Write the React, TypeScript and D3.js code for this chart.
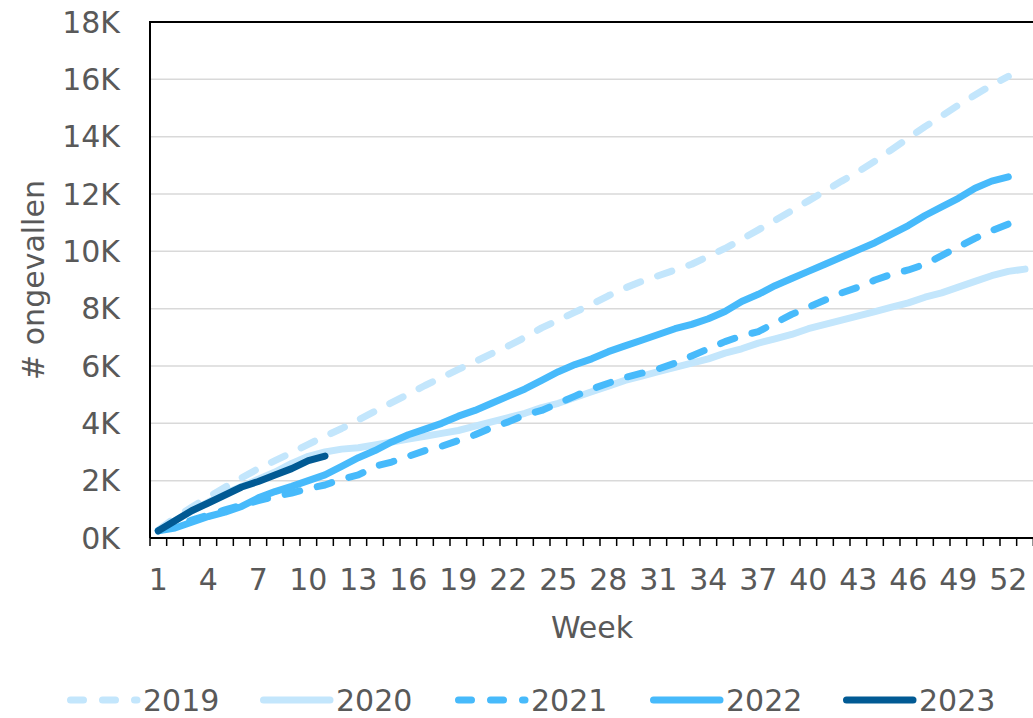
import React from "react";
import * as d3 from "d3";

const weeks: number[] = d3.range(1, 54);
const xTickLabels: number[] = [1, 4, 7, 10, 13, 16, 19, 22, 25, 28, 31, 34, 37, 40, 43, 46, 49, 52];
const yTicks: number[] = [0, 2000, 4000, 6000, 8000, 10000, 12000, 14000, 16000, 18000];

const s2019: number[] = [280, 700, 1070, 1430, 1770, 2100, 2420, 2700, 2980, 3270, 3550, 3820, 4120, 4420, 4720, 5020, 5320, 5600, 5880, 6150, 6430, 6700, 7000, 7330, 7600, 7880, 8150, 8450, 8720, 8950, 9150, 9350, 9550, 9820, 10100, 10420, 10750, 11080, 11420, 11760, 12100, 12450, 12780, 13150, 13550, 13950, 14350, 14720, 15100, 15450, 15800, 16100];
const s2020: number[] = [250, 600, 950, 1250, 1550, 1800, 2050, 2300, 2600, 2850, 3000, 3100, 3150, 3250, 3350, 3450, 3550, 3650, 3750, 3900, 4050, 4200, 4350, 4550, 4700, 4900, 5100, 5300, 5500, 5650, 5800, 5950, 6100, 6250, 6450, 6600, 6800, 6950, 7100, 7300, 7450, 7600, 7750, 7900, 8050, 8200, 8400, 8550, 8750, 8950, 9150, 9300, 9380];
const s2021: number[] = [250, 450, 620, 800, 980, 1150, 1300, 1450, 1570, 1720, 1850, 2050, 2200, 2500, 2650, 2850, 3050, 3200, 3400, 3600, 3850, 4050, 4300, 4450, 4700, 4950, 5200, 5400, 5600, 5750, 5900, 6100, 6350, 6600, 6850, 7050, 7200, 7500, 7800, 8050, 8300, 8550, 8750, 9000, 9200, 9350, 9550, 9850, 10150, 10450, 10720, 10950];
const s2022: number[] = [250, 350, 550, 750, 900, 1100, 1400, 1620, 1800, 2000, 2200, 2500, 2800, 3050, 3350, 3600, 3800, 4000, 4250, 4450, 4700, 4950, 5200, 5500, 5800, 6050, 6250, 6500, 6700, 6900, 7100, 7300, 7450, 7650, 7900, 8250, 8500, 8800, 9050, 9300, 9550, 9800, 10050, 10300, 10600, 10900, 11250, 11550, 11850, 12200, 12450, 12600];
const s2023: number[] = [250, 600, 950, 1220, 1500, 1780, 1970, 2200, 2420, 2700, 2860];

const seriesNames: string[] = ["2019", "2020", "2021", "2022", "2023"];
const seriesData: number[][] = [s2019, s2020, s2021, s2022, s2023];
const seriesColors: string[] = ["#C3E6FC", "#C3E6FC", "#47BAFB", "#47BAFB", "#015A94"];
const seriesDashed: boolean[] = [true, false, true, false, false];

const W = 1033;
const H = 718;
const left = 150;
const right = 1033.33;
const top = 22;
const bottom = 538;
const FONT = "Verdana, 'DejaVu Sans', sans-serif";
const TXT = "#595959";

export default function App() {
  const x = d3.scaleBand<number>().domain(weeks).range([left, right]).padding(0);
  const bw = x.bandwidth();
  const y = d3.scaleLinear().domain([0, 18000]).range([bottom, top]);
  const line = d3
    .line<number>()
    .x((_, i) => (x(weeks[i]) as number) + bw / 2)
    .y((d) => y(d));

  const boundaries = weeks.map((w) => x(w) as number).concat([right]);
  const legendX = [67, 260, 455, 650, 843];

  return (
    <svg width={W} height={H} style={{ position: "absolute", left: 0, top: 0, background: "#fff" }}>
      <rect x={0} y={0} width={W} height={H} fill="#fff" />
      {yTicks.map((t) => (
        <line key={"g" + t} x1={left} x2={W + 10} y1={y(t)} y2={y(t)} stroke="#D9D9D9" strokeWidth={1.5} />
      ))}
      <line x1={left} x2={W + 10} y1={top} y2={top} stroke="#000" strokeWidth={2} />
      <line x1={left} x2={left} y1={top - 1} y2={bottom} stroke="#000" strokeWidth={2} />
      <line x1={left} x2={W + 10} y1={bottom} y2={bottom} stroke="#000" strokeWidth={2} />
      {boundaries.map((b, i) => (
        <line key={"t" + i} x1={b} x2={b} y1={bottom} y2={bottom + 8} stroke="#000" strokeWidth={1.5} />
      ))}
      {yTicks.map((t) => (
        <text key={"yl" + t} x={120} y={y(t)} dy="0.36em" textAnchor="end" fontFamily={FONT} fontSize={30} fill={TXT}>
          {t / 1000 + "K"}
        </text>
      ))}
      {xTickLabels.map((w) => (
        <text key={"xl" + w} x={(x(w) as number) + bw / 2} y={590} textAnchor="middle" fontFamily={FONT} fontSize={30} fill={TXT}>
          {w}
        </text>
      ))}
      <text x={592} y={638} textAnchor="middle" fontFamily={FONT} fontSize={30} fill={TXT}>
        Week
      </text>
      <text transform="translate(44,280) rotate(-90)" textAnchor="middle" fontFamily={FONT} fontSize={30} fill={TXT}>
        # ongevallen
      </text>
      {seriesData.map((d, i) => (
        <path
          key={"s" + i}
          d={line(d) || ""}
          fill="none"
          stroke={seriesColors[i]}
          strokeWidth={7}
          strokeLinecap="round"
          strokeLinejoin="round"
          strokeDasharray={seriesDashed[i] ? "15,18" : undefined}
        />
      ))}
      {seriesNames.map((n, i) => (
        <g key={"lg" + i}>
          <line
            x1={legendX[i] + 3.5}
            x2={legendX[i] + 70}
            y1={700}
            y2={700}
            stroke={seriesColors[i]}
            strokeWidth={7}
            strokeLinecap="round"
            strokeDasharray={seriesDashed[i] ? "13,19" : undefined}
          />
          <text x={legendX[i] + 76} y={711} fontFamily={FONT} fontSize={30} fill={TXT}>
            {n}
          </text>
        </g>
      ))}
    </svg>
  );
}
